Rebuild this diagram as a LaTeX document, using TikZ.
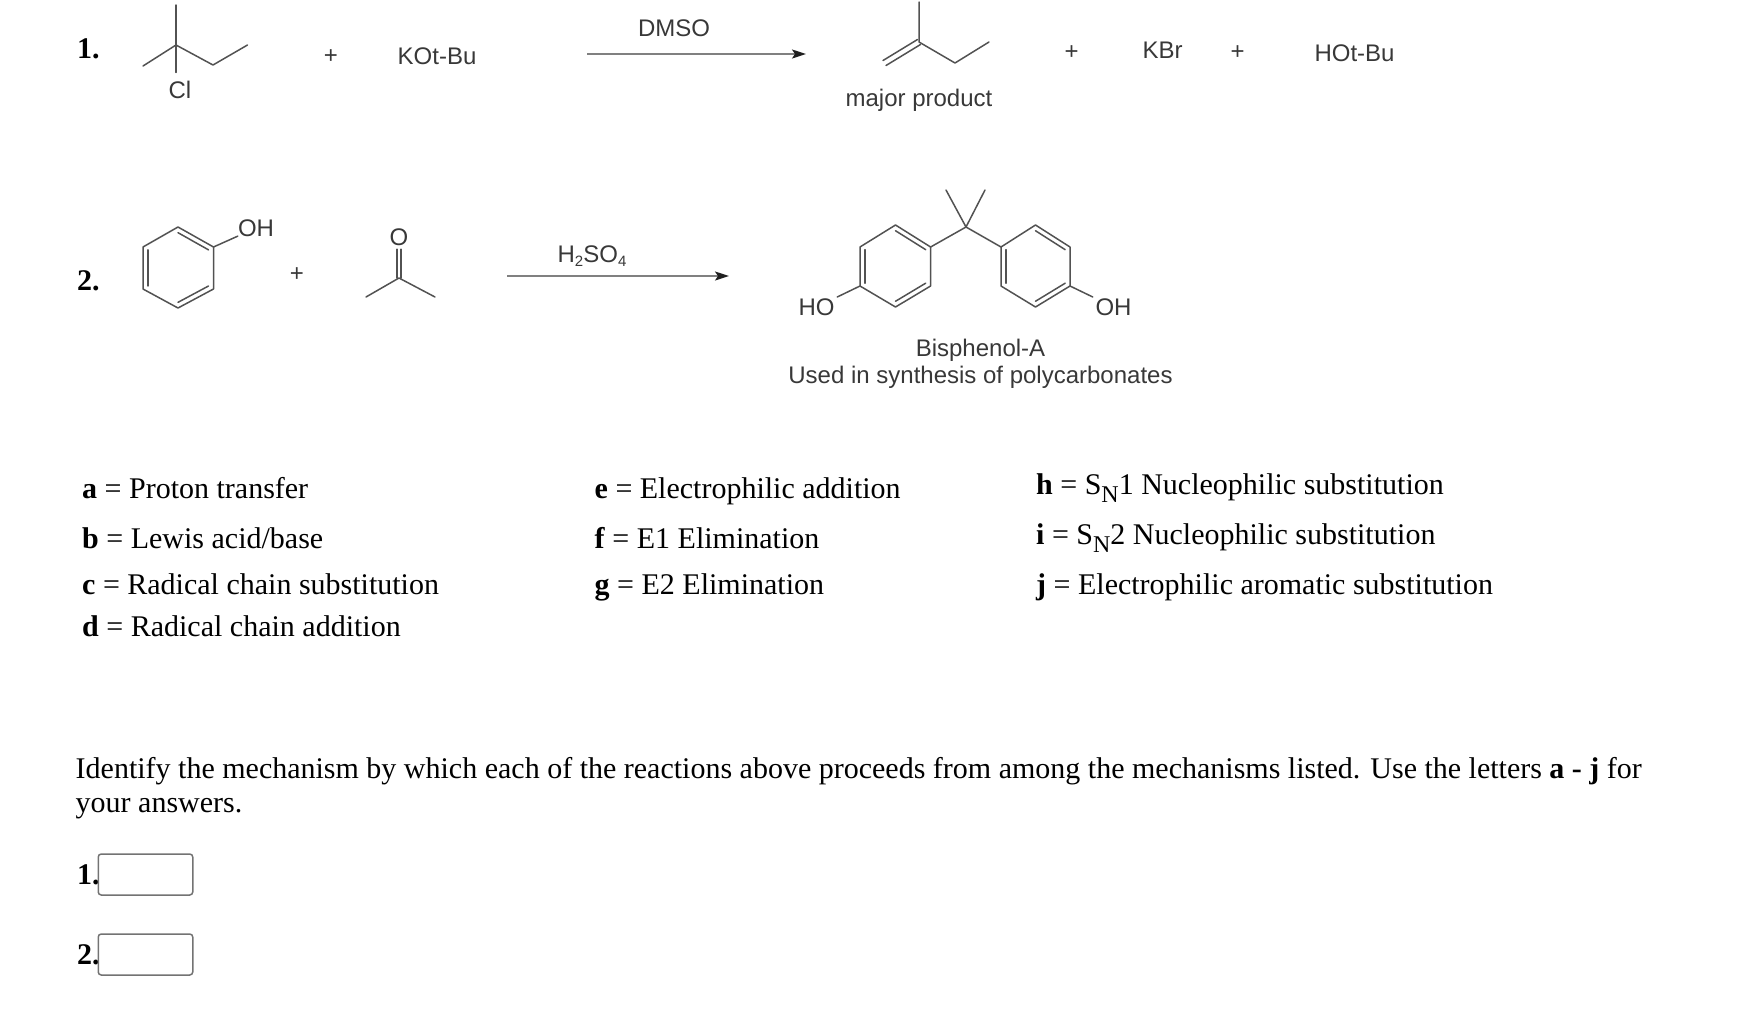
\documentclass[tikz,border=0pt]{standalone}
\usepackage{fontspec}
\setmainfont{Liberation Serif}
\newfontfamily\arialfont{Liberation Sans}
\usetikzlibrary{arrows.meta,calc}
\newcommand{\lowtxt}[3]{\raisebox{-#2pt}{\fontsize{#1}{#1}\selectfont #3}}
\tikzset{
  bond/.style={draw=black!68,line width=1.5pt,line cap=round,line join=round},
  rxnarrow/.style={draw=black!50,line width=1.8pt,-{Stealth[length=14pt,width=9pt,inset=3pt,black!88]}},
  chem/.style={inner sep=0pt,text=black!78,font=\fontsize{24}{28}\selectfont\arialfont},
  doc/.style={inner sep=0pt,anchor=base west,text=black,font=\fontsize{30}{36}\selectfont},
  ansbox/.style={draw=black!55,line width=1.5pt,rounded corners=3pt,fill=white},
}
\newcommand{\innerbond}[3]{\draw[bond] ($(#1)!.14!(#3)$) -- ($(#2)!.14!(#3)$);}
\begin{document}
\begin{tikzpicture}[x=1pt,y=-1pt]
\useasboundingbox (0,0) rectangle (1746,1018);

% reaction 1
\node[doc] (n1) at (77,58) {\textbf{1.}};
\coordinate (a1c) at (176,45);
\coordinate (a1t) at (176,5);
\coordinate (a1l) at (143,66);
\coordinate (a1m) at (213,65);
\coordinate (a1e) at (247.5,45);
\node[chem] (cl) at (180,89.5) {Cl};
\draw[bond] (a1t) -- (a1c) -- ([yshift=8pt]a1c|-cl.north);
\draw[bond] (a1l) -- (a1c) -- (a1m) -- (a1e);
\node[chem] (p1) at (331,57) {+};
\node[chem] (kotbu) at (437,56) {KOt-Bu};
\node[chem] (dmso) at (674,28) {DMSO};
\coordinate (ar1s) at (587,54);
\coordinate (ar1e) at (806,54);
\draw[rxnarrow] (ar1s) -- (ar1e);
\coordinate (b1t) at (919,2);
\coordinate (b1c) at (919,42);
\coordinate (b1l) at (884.5,63);
\coordinate (b1m) at (955,63);
\coordinate (b1e) at (989,42);
\draw[bond] (b1t) -- (b1c) -- (b1m) -- (b1e);
\draw[bond] ($(b1c)+(-1.5,-2.5)$) -- ($(b1l)+(-1.5,-2.5)$);
\draw[bond] ($(b1c)+(1.5,2.5)$) -- ($(b1l)+(1.5,2.5)$);
\node[chem] (major) at (919,100) {major product};
\node[chem] (p2) at (1071.5,52.5) {+};
\node[chem] (kbr) at (1162.5,50) {KBr};
\node[chem] (p3) at (1237.5,52.5) {+};
\node[chem] (hotbu) at (1354.5,53) {HOt-Bu};

% reaction 2
\node[doc] (n2) at (77,290) {\textbf{2.}};
\coordinate (rac) at (178,267.5);
\coordinate (ra1) at (178,227);
\coordinate (ra2) at (213.5,247);
\coordinate (ra3) at (213.5,289);
\coordinate (ra4) at (178,308);
\coordinate (ra5) at (143,289);
\coordinate (ra6) at (143,247);
\draw[bond] (ra1) -- (ra2) -- (ra3) -- (ra4) -- (ra5) -- (ra6) -- cycle;
\innerbond{ra1}{ra2}{rac}
\innerbond{ra3}{ra4}{rac}
\innerbond{ra5}{ra6}{rac}
\node[chem] (oh1) at (256,228) {OH};
\draw[bond] (ra2) -- (oh1);
\node[chem] (p4) at (297,275) {+};
\node[chem] (oa) at (399,237) {O};
\coordinate (ca) at (399,278);
\coordinate (cal) at (366,297);
\coordinate (car) at (435,297);
\draw[bond] (cal) -- (ca) -- (car);
\draw[bond] ($(ca)+(-2,0)$) -- ($(oa.south)+(-2,3.5)$);
\draw[bond] ($(ca)+(2,0)$) -- ($(oa.south)+(2,3.5)$);
\node[chem] (hs) at (592,256) {H\lowtxt{15}{4}{2}SO\lowtxt{15}{4}{4}};
\coordinate (ar2s) at (507,276);
\coordinate (ar2e) at (729,276);
\draw[rxnarrow] (ar2s) -- (ar2e);

% bisphenol-A
\coordinate (bc) at (966,227);
\coordinate (bm1) at (946,190);
\coordinate (bm2) at (985,190);
\draw[bond] (bm1) -- (bc) -- (bm2);
\coordinate (lc) at (895.5,266);
\coordinate (l1) at (895.5,225);
\coordinate (l2) at (930.6,247);
\coordinate (l3) at (930.6,286);
\coordinate (l4) at (895.5,307);
\coordinate (l5) at (860,286);
\coordinate (l6) at (860,247);
\draw[bond] (l1) -- (l2) -- (l3) -- (l4) -- (l5) -- (l6) -- cycle;
\innerbond{l1}{l2}{lc}
\innerbond{l3}{l4}{lc}
\innerbond{l5}{l6}{lc}
\coordinate (rc) at (1035.5,266);
\coordinate (r1) at (1035.5,225);
\coordinate (r2) at (1070,247);
\coordinate (r3) at (1070,286);
\coordinate (r4) at (1035.5,307);
\coordinate (r5) at (1001,286);
\coordinate (r6) at (1001,247);
\draw[bond] (r1) -- (r2) -- (r3) -- (r4) -- (r5) -- (r6) -- cycle;
\innerbond{r1}{r2}{rc}
\innerbond{r3}{r4}{rc}
\innerbond{r5}{r6}{rc}
\draw[bond] (l2) -- (bc) -- (r6);
\node[chem] (ho) at (816.5,307) {HO};
\node[chem] (oh2) at (1113.5,307) {OH};
\draw[bond,shorten >=3pt] (l5) -- (ho);
\draw[bond,shorten >=3pt] (r3) -- (oh2);
\node[chem] (bpa) at (980.5,350) {Bisphenol-A};
\node[chem] (used) at (980.5,377) {Used in synthesis of polycarbonates};

% mechanisms
\node[doc] (ma) at (82,498) {\textbf{a} = Proton transfer};
\node[doc] (mb) at (82,548) {\textbf{b} = Lewis acid/base};
\node[doc] (mc) at (82,594) {\textbf{c} = Radical chain substitution};
\node[doc] (md) at (82,636) {\textbf{d} = Radical chain addition};
\node[doc] (me) at (594.5,498) {\textbf{e} = Electrophilic addition};
\node[doc] (mf) at (594.5,548) {\textbf{f} = E1 Elimination};
\node[doc] (mg) at (594.5,594) {\textbf{g} = E2 Elimination};
\node[doc] (mh) at (1036,494) {\textbf{h} = S\lowtxt{24}{8}{N}1 Nucleophilic substitution};
\node[doc] (mi) at (1036,544) {\textbf{i} = S\lowtxt{24}{8}{N}2 Nucleophilic substitution};
\node[doc] (mj) at (1036,594) {\textbf{j} = Electrophilic aromatic substitution};

% question
\node[doc] (q1) at (75.5,778) {Identify the mechanism by which each of the reactions above proceeds from among the mechanisms listed. Use the letters \textbf{a - j} for};
\node[doc] (q2) at (75.5,812) {your answers.};

% answers
\node[doc] (a1) at (77,884) {\textbf{1.}};
\node[ansbox,minimum width=94.5pt,minimum height=41pt,inner sep=0pt] (box1) at (145.5,874.5) {};
\node[doc] (a2) at (77,964) {\textbf{2.}};
\node[ansbox,minimum width=94.5pt,minimum height=41pt,inner sep=0pt] (box2) at (145.5,954.5) {};
\end{tikzpicture}
\end{document}
